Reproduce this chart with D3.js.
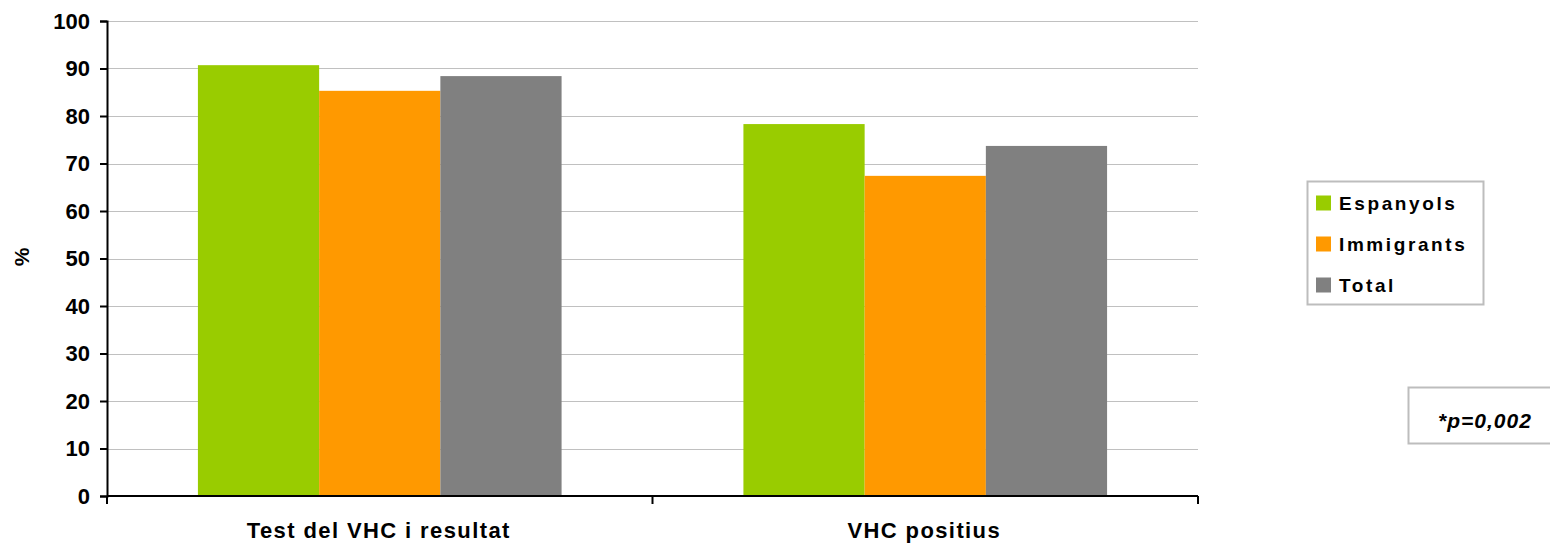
<!DOCTYPE html>
<html>
<head>
<meta charset="utf-8">
<script src="https://cdn.jsdelivr.net/npm/d3@7"></script>
<style>
  html, body { margin: 0; padding: 0; background: #fff; }
  svg { display: block; font-family: "Liberation Sans", Arial, sans-serif; font-weight: bold; }
</style>
</head>
<body>
<svg id="chart" width="1550" height="544"></svg>
<script>
const categories = ["Test del VHC i resultat", "VHC positius"];
const seriesNames = ["Espanyols", "Immigrants", "Total"];
const espanyols = [90.7, 78.3];
const immigrants = [85.3, 67.4];
const total = [88.4, 73.7];
const yTicks = [0, 10, 20, 30, 40, 50, 60, 70, 80, 90, 100];
const colors = ["#99cc00", "#ff9900", "#808080"];
const note = "*p=0,002";

(function () {
const seriesValues = [espanyols, immigrants, total];
const svg = d3.select("#chart");
const pLeft = 107, pRight = 1198, pTop = 21, pBottom = 496;

const x0 = d3.scaleBand().domain(categories).range([pLeft, pRight]).paddingInner(0).paddingOuter(0);
const x1 = d3.scaleBand().domain(seriesNames).range([0, x0.bandwidth()]).paddingInner(0).paddingOuter(0.75);
const y = d3.scaleLinear().domain([0, 100]).range([pBottom, pTop]);

// gridlines
svg.append("g").selectAll("line").data(yTicks.filter(d => d > 0)).join("line")
  .attr("x1", pLeft).attr("x2", pRight)
  .attr("y1", d => Math.round(y(d)) + 0.5).attr("y2", d => Math.round(y(d)) + 0.5)
  .attr("stroke", "#c0c0c0").attr("stroke-width", 1);

// bars
const g = svg.append("g");
categories.forEach((c, ci) => {
  seriesNames.forEach((s, si) => {
    const v = seriesValues[si][ci];
    g.append("rect")
      .attr("x", x0(c) + x1(s))
      .attr("y", y(v))
      .attr("width", x1.bandwidth())
      .attr("height", y(0) - y(v))
      .attr("fill", colors[si]);
  });
});

// y axis
const yAxis = d3.axisLeft(y).tickValues(yTicks).tickSize(7).tickPadding(10);
const ya = svg.append("g").attr("transform", `translate(${pLeft},0)`).call(yAxis);
ya.select(".domain").attr("stroke", "#000").attr("stroke-width", 2);
ya.selectAll(".tick line").attr("stroke", "#000").attr("stroke-width", 2);
ya.selectAll(".tick text").attr("font-size", "22px").attr("font-weight", "bold")
  .attr("font-family", "Liberation Sans, Arial, sans-serif").attr("fill", "#000");

// x axis
const xa = svg.append("g").attr("transform", `translate(0,${pBottom})`);
xa.append("line").attr("x1", pLeft).attr("x2", pRight).attr("y1", 0).attr("y2", 0)
  .attr("stroke", "#000").attr("stroke-width", 2);
const boundaries = [pLeft].concat(categories.map(c => x0(c) + x0.bandwidth()));
xa.selectAll("line.tk").data(boundaries).join("line").attr("class", "tk")
  .attr("x1", d => d).attr("x2", d => d).attr("y1", 0).attr("y2", 8)
  .attr("stroke", "#000").attr("stroke-width", 2);
xa.selectAll("text").data(categories).join("text")
  .attr("x", d => x0(d) + x0.bandwidth() / 2 - 1)
  .attr("y", 42)
  .attr("text-anchor", "middle")
  .attr("font-size", "22px")
  .attr("letter-spacing", "1.4px")
  .text(d => d);

// y axis title
svg.append("text").attr("transform", "translate(29,257) rotate(-90)")
  .attr("text-anchor", "middle").attr("font-size", "21px").text("%");

// legend
const lg = svg.append("g");
lg.append("rect").attr("x", 1307.5).attr("y", 181.5).attr("width", 176).attr("height", 123)
  .attr("fill", "#fff").attr("stroke", "#bdbdbd").attr("stroke-width", 2);
const rowY = [203, 244, 285];
seriesNames.forEach((s, i) => {
  lg.append("rect").attr("x", 1316).attr("y", rowY[i] - 7.5).attr("width", 15).attr("height", 15).attr("fill", colors[i]);
  lg.append("text").attr("x", 1339).attr("y", rowY[i]).attr("dy", "0.36em")
    .attr("font-size", "19px").attr("letter-spacing", "2.6px").text(s);
});

// note box
svg.append("rect").attr("x", 1408.5).attr("y", 387.5).attr("width", 150).attr("height", 56)
  .attr("fill", "#fff").attr("stroke", "#bdbdbd").attr("stroke-width", 2);
svg.append("text").attr("x", 1438).attr("y", 420).attr("dy", "0.36em").attr("text-anchor", "start")
  .attr("font-size", "21px").attr("font-style", "italic").attr("letter-spacing", "1px").text(note);
})();
</script>
</body>
</html>
